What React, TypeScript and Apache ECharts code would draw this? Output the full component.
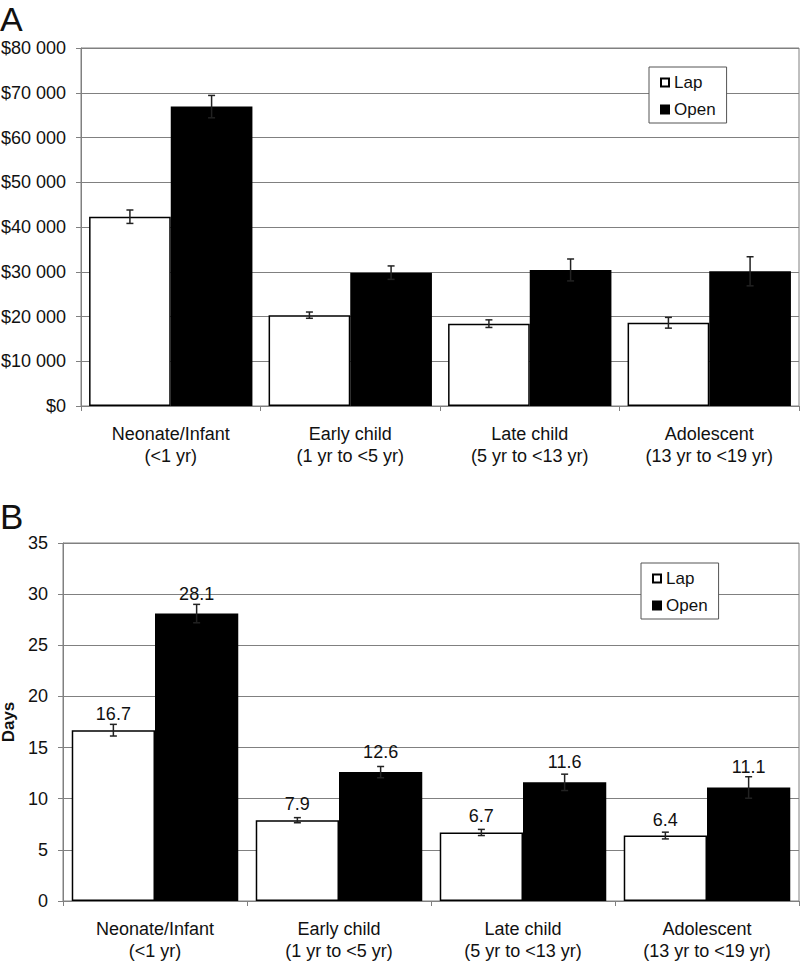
import React, { useEffect, useRef } from "react";
import * as echarts from "echarts";

const categories = [
  "Neonate/Infant\n(<1 yr)",
  "Early child\n(1 yr to <5 yr)",
  "Late child\n(5 yr to <13 yr)",
  "Adolescent\n(13 yr to <19 yr)",
];
const seriesNames = ["Lap", "Open"];

const lapCost = [42300, 20300, 18400, 18600];
const openCost = [66900, 29800, 30400, 30100];
const lapCostErr = [1500, 700, 850, 1200];
const openCostErr = [2500, 1500, 2450, 3250];

const lapDays = [16.7, 7.9, 6.7, 6.4];
const openDays = [28.1, 12.6, 11.6, 11.1];
const lapDaysErr = [0.57, 0.25, 0.3, 0.33];
const openDaysErr = [0.9, 0.55, 0.8, 1.05];

const FONT = "'Liberation Sans', Arial, sans-serif";
const TXT = "#111";
const GRID = "#808080";
const GAP_A = 0.09;
const GAP_B = 0.095;

function errData(vals: number[], errs: number[]) {
  return vals.map((v, i) => [i, v - errs[i], v + errs[i]]);
}

function errRender(gapFrac: number, side: number) {
  return (params: any, api: any) => {
    const ci = api.value(0);
    const lo = api.value(1);
    const hi = api.value(2);
    const band = api.size([1, 0])[0];
    const barW = (band * (1 - gapFrac)) / 2;
    const center = api.coord([ci, 0])[0];
    const x = center + (side * barW) / 2;
    const yLo = api.coord([ci, lo])[1];
    const yHi = api.coord([ci, hi])[1];
    const cap = 3.5;
    const style = { stroke: "#222", lineWidth: 1.5 };
    return {
      type: "group",
      children: [
        { type: "line", shape: { x1: x, y1: yLo, x2: x, y2: yHi }, style },
        { type: "line", shape: { x1: x - cap, y1: yHi, x2: x + cap, y2: yHi }, style },
        { type: "line", shape: { x1: x - cap, y1: yLo, x2: x + cap, y2: yLo }, style },
      ],
    };
  };
}

function thousands(v: number) {
  return String(v).replace(/\B(?=(\d{3})+(?!\d))/g, " ");
}

const App: React.FC = () => {
  const ref = useRef<HTMLDivElement>(null);

  useEffect(() => {
    if (!ref.current) return;
    const chart = echarts.init(ref.current, undefined, { renderer: "svg" });

    const xAxisCommon = (gridIndex: number) => ({
      type: "category" as const,
      gridIndex,
      data: categories,
      axisLine: { lineStyle: { color: GRID, width: 1 } },
      axisTick: { show: true, length: 5, interval: 0, lineStyle: { color: GRID } },
      axisLabel: {
        interval: 0,
        margin: 17,
        fontSize: 18,
        lineHeight: 22,
        color: TXT,
        fontFamily: FONT,
      },
      splitLine: { show: false },
    });

    const legendCommon = (left: number, top: number) => ({
      orient: "vertical" as const,
      left,
      top,
      data: seriesNames,
      icon: "rect",
      itemWidth: 8,
      itemHeight: 8,
      itemGap: 10,
      padding: [7, 11, 5, 11],
      borderColor: "#555",
      borderWidth: 1,
      backgroundColor: "#fff",
      selectedMode: false,
      textStyle: { fontSize: 17, lineHeight: 17, color: TXT, fontFamily: FONT },
    });

    const barStyle = (fill: string) => ({ color: fill, borderColor: "#000", borderWidth: 1.5 });

    const dayLabel = (distance: number) => ({
      show: true,
      position: "top",
      distance,
      fontSize: 18,
      color: TXT,
      fontFamily: FONT,
      formatter: (p: any) => p.value.toFixed(1),
    });

    chart.setOption({
      animation: false,
      textStyle: { fontFamily: FONT },
      graphic: [
        { type: "text", left: 0, top: 2, style: { text: "A", fontSize: 34, fontFamily: FONT, fill: TXT } },
        { type: "text", left: 0, top: 499, style: { text: "B", fontSize: 35, fontFamily: FONT, fill: TXT } },
      ],
      legend: [legendCommon(649, 67), legendCommon(641, 563)],
      grid: [
        { left: 81, top: 48, width: 718, height: 358, show: true, borderColor: GRID, borderWidth: 1, backgroundColor: "transparent", containLabel: false, outerBoundsMode: "none" },
        { left: 63, top: 543, width: 736, height: 358, show: true, borderColor: GRID, borderWidth: 1, backgroundColor: "transparent", containLabel: false, outerBoundsMode: "none" },
      ],
      xAxis: [xAxisCommon(0), xAxisCommon(1)],
      yAxis: [
        {
          type: "value",
          gridIndex: 0,
          min: 0,
          max: 80000,
          interval: 10000,
          axisLine: { show: true, lineStyle: { color: GRID } },
          axisTick: { show: true, length: 5, lineStyle: { color: GRID } },
          axisLabel: {
            margin: 15,
            fontSize: 18,
            color: TXT,
            fontFamily: FONT,
            formatter: (v: number) => "$" + thousands(v),
          },
          splitLine: { show: true, lineStyle: { color: GRID, width: 1 } },
        },
        {
          type: "value",
          gridIndex: 1,
          min: 0,
          max: 35,
          interval: 5,
          name: "Days",
          nameLocation: "middle",
          nameGap: 46,
          nameTextStyle: { fontSize: 17, fontWeight: "bold", color: TXT, fontFamily: FONT },
          axisLine: { show: true, lineStyle: { color: GRID } },
          axisTick: { show: true, length: 5, lineStyle: { color: GRID } },
          axisLabel: { margin: 15, fontSize: 18, color: TXT, fontFamily: FONT },
          splitLine: { show: true, lineStyle: { color: GRID, width: 1 } },
        },
      ],
      series: [
        {
          name: "Lap",
          type: "bar",
          xAxisIndex: 0,
          yAxisIndex: 0,
          data: lapCost,
          barGap: "0%",
          barCategoryGap: GAP_A * 100 + "%",
          itemStyle: barStyle("#fff"),
        },
        {
          name: "Open",
          type: "bar",
          xAxisIndex: 0,
          yAxisIndex: 0,
          data: openCost,
          barGap: "0%",
          barCategoryGap: GAP_A * 100 + "%",
          itemStyle: barStyle("#000"),
        },
        {
          name: "Lap",
          type: "bar",
          xAxisIndex: 1,
          yAxisIndex: 1,
          data: lapDays,
          barGap: "0%",
          barCategoryGap: GAP_B * 100 + "%",
          itemStyle: barStyle("#fff"),
          label: dayLabel(7),
        },
        {
          name: "Open",
          type: "bar",
          xAxisIndex: 1,
          yAxisIndex: 1,
          data: openDays,
          barGap: "0%",
          barCategoryGap: GAP_B * 100 + "%",
          itemStyle: barStyle("#000"),
          label: dayLabel(11),
        },
        {
          type: "custom",
          xAxisIndex: 0,
          yAxisIndex: 0,
          z: 10,
          silent: true,
          renderItem: errRender(GAP_A, -1),
          encode: { x: 0, y: [1, 2] },
          data: errData(lapCost, lapCostErr),
        },
        {
          type: "custom",
          xAxisIndex: 0,
          yAxisIndex: 0,
          z: 10,
          silent: true,
          renderItem: errRender(GAP_A, 1),
          encode: { x: 0, y: [1, 2] },
          data: errData(openCost, openCostErr),
        },
        {
          type: "custom",
          xAxisIndex: 1,
          yAxisIndex: 1,
          z: 10,
          silent: true,
          renderItem: errRender(GAP_B, -1),
          encode: { x: 0, y: [1, 2] },
          data: errData(lapDays, lapDaysErr),
        },
        {
          type: "custom",
          xAxisIndex: 1,
          yAxisIndex: 1,
          z: 10,
          silent: true,
          renderItem: errRender(GAP_B, 1),
          encode: { x: 0, y: [1, 2] },
          data: errData(openDays, openDaysErr),
        },
      ],
    });

    return () => chart.dispose();
  }, []);

  return (
    <div
      ref={ref}
      style={{ position: "absolute", left: 0, top: 0, width: 800, height: 962, background: "#fff" }}
    />
  );
};

export default App;
